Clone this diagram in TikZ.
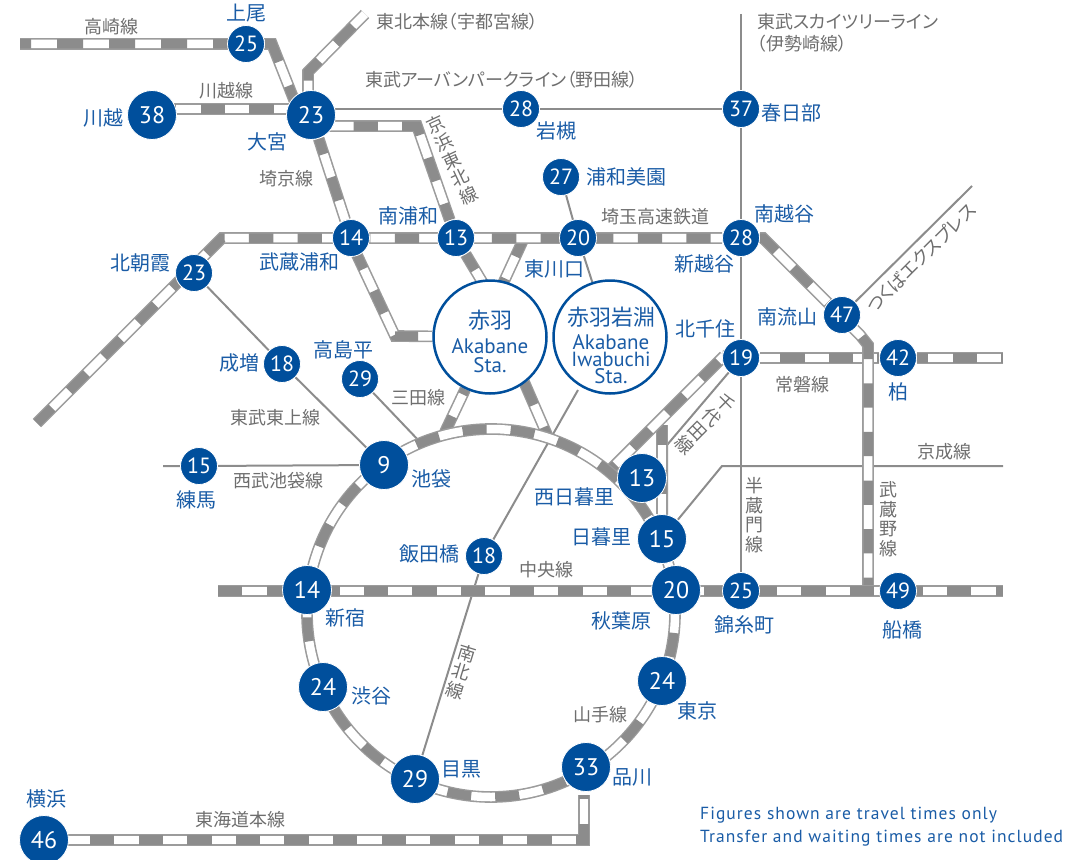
\documentclass[tikz,border=0pt]{standalone}
\usepackage{fontspec}
\usetikzlibrary{backgrounds}
\setmainfont[RawFeature=+palt]{Noto Sans CJK JP}
\newfontfamily\din{PT Sans}
\newfontfamily\dinsp[LetterSpace=6]{PT Sans}
\definecolor{blu}{HTML}{004F9C}
\definecolor{lab}{HTML}{1A5CA6}
\definecolor{rl}{HTML}{8C8C8C}
\definecolor{rb}{HTML}{9C9C9C}
\definecolor{tx}{HTML}{6E6E6E}
\tikzset{
 rail/.style 2 args={draw=rb,line width=11.7pt,line join=miter,
   postaction={draw=white,line width=8.5pt},
   postaction={draw=rl,line width=9.5pt,dash pattern=on #1pt off #1pt,dash phase=#2pt}},
 thinline/.style={draw=rl,line width=2pt},
 st/.style={circle,fill=blu,draw=white,line width=.8pt,inner sep=0pt,minimum size=37pt,text=white,font=\din\fontsize{22}{22}\selectfont},
 big/.style={st,minimum size=49pt,font=\din\fontsize{24}{24}\selectfont},
 sta/.style={circle,fill=white,draw=blu,line width=2.5pt,inner sep=0pt,minimum size=113pt},
 stj/.style={text=lab,inner sep=0pt,font=\fontsize{22}{24}\selectfont},
 ste/.style={text=lab,inner sep=0pt,anchor=base,font=\din\fontsize{21}{21}\selectfont},
 bl/.style={text=lab,font=\fontsize{20}{22}\selectfont,inner sep=0pt},
 gl/.style={text=tx,font=\fontsize{18}{20}\selectfont,inner sep=0pt},
 note/.style={text=lab,font=\dinsp\fontsize{17.5}{19}\selectfont,inner sep=0pt,anchor=west},
 vgl/.style={gl,align=center,font=\fontsize{18}{19.5}\selectfont},
}
\begin{document}
\begin{tikzpicture}[x=1pt,y=-1pt]
\useasboundingbox (0,0) rectangle (1065,859);
\foreach \n/\x/\y/\k in {kawa/152/115/38,omiya/311/115/23,ike/384/465/9,nishi/642/478/13,nip/662/539/15,shin/307/590/14,aki/676/590/20,shib/323/687/24,tok/662/681/24,shina/586/767/33,megu/415/779/29,yoko/44/840/46}
 {\node[big] (\n) at (\x,\y) {\k};}
\foreach \n/\x/\y/\k in {ageo/246/44/25,iwa/521/109/28,kasu/741/109/37,ura/561/177/27,minako/741/238/28,higa/578/238/20,minau/456/238/13,musa/351/238/14,asaka/194/273/23,nagare/842/315/47,kashi/898/358/42,kita/741/358/19,nari/282/364/18,taka/360/379/29,neri/199/466/15,iida/484/556/18,kin/741/591/25,funa/898/591/49}
 {\node[st] (\n) at (\x,\y) {\k};}
\node[sta] (aka) at (490,337) {};
\node[sta] (iwab) at (610,337) {};
\node[stj] (akaJ) at (490,320) {赤羽};
\node[ste] (akaE) at (490,353) {Akabane};
\node[ste] (akaS) at (490,372) {Sta.};
\node[stj] (iwaJ) at (611,317) {赤羽岩淵};
\node[ste] (iwaE) at (611,349) {Akabane};
\node[ste,font=\din\fontsize{20.5}{21}\selectfont] (iwaI) at (611,366) {Iwabuchi};
\node[ste] (iwaS) at (611,383) {Sta.};
% free ends and bends
\foreach \n/\x/\y in {tkw/20/44,tkb/272/44,tkc/300/115,thA/308/72,thB/365/14,thC/308/105,kwl/152/109,kwr/311/109,
 kh0/311/126,kh1/417/126,kh2/490/295,sk1/357/255,sk2/395/336,ms1/37/423,ms2/222/238,ms3/763/238,ms4/860/335,ms5/868/345,ms6/868/591,
 ak1/524/238,ak2/500/290,rg1/445/432,rg2/548/437,rs2/508/345,rgT/421/443,
 jbA/605/475,jbB/724/356,jbE/1003/358,chu1/218/591,chu2/1003/591,
 td0/44/840,td1/584/840,td2/584/795,ch1/667/445,ch2/667/520,rgN/662/425,
 tb0/741/14,tx0/972/186,ks1/1003/466,ks2/722/466,sb0/163/466,ap1/578/390,ringc/491/613}
 {\coordinate (\n) at (\x,\y);}
% texts
\foreach \t/\x/\y [count=\i] in {上尾/246/13,川越/103/118,大宮/267/142,岩槻/556/131,春日部/791/113,浦和美園/626/177,南浦和/408/216,武蔵浦和/299/262,北朝霞/140/263,南越谷/784/214,東川口/554/269,新越谷/704/264,南流山/787/317,北千住/705/329,柏/898/392,成増/239/363,高島平/343/350,池袋/431/479,練馬/196/500,西日暮里/574/497,日暮里/601/537,飯田橋/429/554,新宿/345/618,秋葉原/621/621,錦糸町/744/625,船橋/902/630,渋谷/371/696,東京/697/711,品川/632/777,目黒/461/769,横浜/47/799}
 {\node[bl] (b\i) at (\x,\y) {\t};}
\foreach \t/\x/\y [count=\i] in {高崎線/111/27,川越線/226/91,埼京線/286/179,三田線/418/398,東武東上線/275/418,西武池袋線/278/481,山手線/600/715,中央線/546/570,常磐線/802/385,京成線/944/452,東海道本線/240/820,埼玉高速鉄道/655/217}
 {\node[gl] (g\i) at (\x,\y) {\t};}
\node[gl,anchor=west] (g13) at (376,22) {東北本線（宇都宮線）};
\node[gl,anchor=west] (g14) at (757,22) {東武スカイツリーライン};
\node[gl,anchor=west] (g15) at (757,44) {（伊勢崎線）};
\node[gl,anchor=west] (g16) at (365,80) {東武アーバンパークライン（野田線）};
\node[vgl] (v1) at (754,515) {半\\蔵\\門\\線};
\node[vgl] (v2) at (888,519) {武\\蔵\\野\\線};
\node[vgl,rotate=25] (v3) at (452,160) {京\\浜\\東\\北\\線};
\node[vgl,rotate=-45] (v4) at (705,424) {千\\代\\田\\線};
\node[vgl,rotate=-17] (v5) at (461,672) {南\\北\\線};
\node[gl,rotate=45] (v6) at (921,258) {つくばエクスプレス};
\node[note] (n1) at (700,815) {Figures shown are travel times only};
\node[note] (n2) at (700,838) {Transfer and waiting times are not included};
\begin{scope}[on background layer]
% thin lines
\draw[thinline] (tb0)--(kasu)--(minako)--(kita)--(kin);
\draw[thinline] (kwr)--(iwa)--(kasu);
\draw[thinline] (ura)--(higa)--(iwab);
\draw[thinline] (ap1)--(iida)--(megu);
\draw[thinline] (asaka)--(nari)--(ike);
\draw[thinline] (taka)--(rgT);
\draw[thinline] (sb0)--(neri)--(ike);
\draw[thinline] (tx0)--(nagare);
\draw[thinline] (ks1)--(ks2)--(nip);
\draw[thinline] (kita)--(ch1)--(ch2);
% rails
\draw[rail={26}{15}] (tkw)--(tkb)--(tkc);
\draw[rail={24.3}{31.6}] (thB)--(thA)--(thC);
\draw[rail={24.3}{0}] (kwl)--(kwr);
\draw[rail={24.3}{6}] (kh0)--(kh1)--(minau)--(kh2);
\draw[rail={24.3}{8}] (omiya)--(musa)--(sk1)--(sk2)--(aka);
\draw[rail={24.3}{4}] (ak1)--(ak2);
\draw[rail={24.3}{7}] (rg1)--(aka);
\draw[rail={24.3}{7.6}] (rs2)--(rg2);
\draw[rail={24.3}{22.6}] (jbE)--(kashi)--(kita);
\draw[rail={24.3}{4}] (rgN)--(nip);
\draw[rail={24.3}{39.2}] (kita)--(jbB)--(jbA);
\draw[rail={24.08}{28.2}] (ringc) circle[radius=184];
\draw[rail={24.3}{3}] (ms1)--(ms2)--(minako)--(ms3)--(ms4)--(ms5)--(ms6);
\draw[rail={24.3}{0}] (chu1)--(chu2);
\draw[rail={24.3}{2.6}] (td0)--(td1)--(td2);
\end{scope}
\end{tikzpicture}
\end{document}
